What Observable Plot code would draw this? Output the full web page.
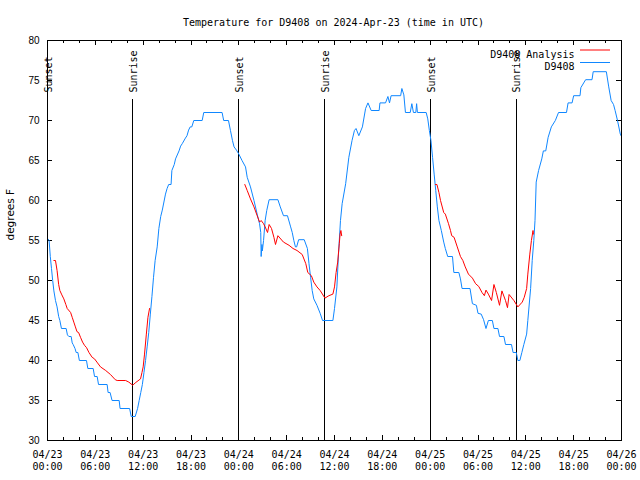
<!DOCTYPE html>
<html>
<head>
<meta charset="utf-8">
<script src="https://cdn.jsdelivr.net/npm/d3@7"></script>
<script src="https://cdn.jsdelivr.net/npm/@observablehq/plot@0.6"></script>
<style>
  html, body { margin: 0; padding: 0; background: white; }
  svg { display: block; }
</style>
</head>
<body>
<div id="chart"></div>
<script>
// ---------------- DATA ----------------
const titleText = "Temperature for D9408 on 2024-Apr-23 (time in UTC)";
const yLabel = "degrees F";
const seriesNames = ["D9408 Analysis", "D9408"];
const seriesColors = ["#ff0000", "#0f87ff"];
const startUTC = "2024-04-23T00:00:00Z";

// Observed station temperature: [hours since start, degrees F]
const observed = [
  [0.05,55.2],[0.2,55],[0.35,53],[0.5,51.5],[0.65,50],[0.8,48.7],[1.0,47.5],[1.2,46.7],[1.4,45.5],[1.55,45],
  [1.75,44],[2.34,44],[2.5,43.2],[2.68,43],[2.97,43],[3.1,42.2],[3.22,42],[3.45,41.5],[3.6,41],[3.81,41],
  [4.0,40],[4.89,40],[5.06,39],[5.73,39],[5.9,38],[6.23,38],[6.4,37],[7.48,37],[7.6,36],[7.85,36],
  [8.1,35],[8.99,35],[9.1,34],[10.3,34],[10.5,33],[11.0,33],[11.3,34],[11.5,35],[11.7,36],[11.9,37],
  [12.1,38.5],[12.3,40],[12.5,41.7],[12.7,43.5],[12.9,45.8],[13.1,48],[13.3,50.4],[13.5,52.5],[13.76,54.2],[13.97,56.5],
  [14.2,58],[14.4,58.8],[14.8,60.8],[15.0,61.5],[15.2,62],[15.5,62],[15.6,63.75],[15.9,64.5],[16.06,65.2],[16.5,66.2],
  [16.7,66.8],[16.9,67.1],[17.3,67.8],[17.5,68.1],[17.7,68.8],[17.9,69.2],[18.1,69.2],[18.35,70],[19.4,70],[19.6,71],
  [21.9,71],[22.1,70],[22.7,70],[22.95,68.75],[23.2,67.5],[23.4,66.7],[23.7,66.3],[24.0,65.8],[24.4,65],[24.84,64.2],
  [25.05,62.9],[25.46,61.7],[25.9,60],[26.3,58.3],[26.6,57.1],[26.75,56],[26.8,53],[26.9,54.5],[26.95,53.7],[27.1,55],
  [27.3,57.5],[27.5,58.75],[27.8,60.1],[28.9,60.1],[29.2,59.2],[29.6,58.1],[30.1,58.1],[30.5,56.7],[30.7,56],[30.9,55],
  [31.1,54.2],[31.25,54.2],[31.5,55.1],[32.2,55.1],[32.6,54],[32.8,52.1],[33.0,50.4],[33.2,48.75],[33.4,47.7],[33.8,46.9],
  [34.2,45.9],[34.5,45],[35.8,45],[36.0,46.5],[36.3,49.2],[36.5,53.3],[36.75,57.5],[36.96,59.6],[37.4,62.1],[37.8,65.4],
  [38.2,67.5],[38.5,68.75],[38.7,69],[39.05,68.1],[39.5,69.2],[39.9,71.5],[40.2,72.2],[40.6,71.25],[41.6,71.25],[41.7,72.2],
  [42.4,72.2],[42.7,73],[42.9,72.2],[43.1,73.1],[44.3,73.1],[44.45,74],[44.7,73.2],[44.9,71],[45.5,71],[45.7,72.1],
  [45.9,71],[46.2,71],[46.3,72.1],[46.4,71],[47.5,71],[47.7,70.2],[47.9,68.75],[48.1,67.5],[48.3,65.4],[48.5,63.3],
  [48.7,61.25],[48.9,59.2],[49.1,57.5],[49.4,56.25],[49.7,54.8],[49.9,54],[50.2,53],[50.8,53],[50.97,51],[51.6,51],
  [51.8,50.2],[52.0,49],[53.0,49],[53.3,47.1],[53.8,46.9],[54.0,45.9],[54.4,45.8],[54.7,45.1],[55.0,44],[55.3,45],
  [55.8,45],[56.0,44],[56.5,44],[56.7,43],[57.25,43],[57.45,42],[58.2,42],[58.4,41],[58.8,41],[59.0,40],
  [59.25,40],[59.5,41],[59.75,42],[60.1,43.3],[60.25,45],[60.6,49],[60.8,52.5],[61.0,55],[61.15,57.5],[61.3,62.3],
  [61.6,63.75],[62.0,65.2],[62.2,66.2],[62.5,66.2],[62.8,67.9],[63.2,69.2],[63.7,70],[64.1,71],[65.1,71],[65.3,72.2],
  [65.8,72.2],[66.0,73.1],[66.8,73.1],[66.9,74.1],[67.5,75.1],[68.3,75.1],[68.45,76.1],[70.1,76.1],[70.4,74.2],[70.7,72.5],
  [71.0,72],[71.2,71.25],[71.5,70],[71.85,68.3],[72,68]
];

// Analysis temperature (null = gap): [hours since start, degrees F]
const analysis = [
  [0.8,52.5],[1.0,52.5],[1.2,51.25],[1.4,49.5],[1.55,48.75],[1.8,48.2],[2.05,47.7],[2.3,47],[2.47,46.5],[2.9,46],
  [3.1,45.4],[3.3,44.8],[3.5,44.2],[3.7,43.6],[3.9,43.5],[4.14,42.9],[4.4,42.3],[4.64,41.9],[4.9,41.6],[5.2,41],
  [5.6,40.4],[5.9,40.2],[6.2,39.8],[6.65,39.2],[7.3,38.75],[7.9,38.25],[8.5,37.6],[8.74,37.5],[9.8,37.5],[10.2,37.3],
  [10.7,36.9],[11.0,37.2],[11.67,37.7],[11.85,38.5],[12.0,39.2],[12.17,40.8],[12.4,43.3],[12.6,45.4],[12.8,46.5],
  [18,null],
  [24.75,62],[25.05,61.25],[25.46,60.2],[25.9,59.2],[26.3,58.1],[26.6,57.3],[26.8,57.5],[27.1,57.1],[27.3,56.7],[27.6,56.0],
  [27.8,57],[28.1,56.5],[28.4,55.4],[28.6,54.5],[28.9,55.6],[29.6,54.8],[30.3,54.4],[30.8,54],[31.3,53.75],[31.95,53.25],
  [32.4,52.1],[32.65,51],[33.1,50.6],[33.4,49.8],[33.8,49.2],[34.2,48.75],[34.8,47.8],[35.3,48.1],[35.8,48.3],[36.0,49.2],
  [36.2,51],[36.4,52.3],[36.6,54.6],[36.7,55.8],[36.8,56.25],[36.9,55.6],
  [42,null],
  [48.67,62],[48.85,62],[49.1,61],[49.3,60],[49.7,58.5],[49.9,58.3],[50.3,57.1],[50.55,56.25],[50.7,55.6],[51.0,55.4],
  [51.4,54.2],[51.8,53],[52.1,52.5],[52.4,51.7],[52.8,50.8],[53.3,50.3],[53.7,49.6],[54.1,49.25],[54.5,48.5],[54.8,48.1],
  [55.0,48.8],[55.3,48.3],[55.7,47.5],[56.0,49.5],[56.3,48.5],[56.7,46.9],[57.0,48.7],[57.45,47.5],[57.7,46.6],[57.9,48.25],
  [58.5,47.5],[59.0,46.7],[59.55,47.3],[59.8,47.9],[60.1,49],[60.25,50.8],[60.5,53.3],[60.7,55],[60.9,56.25],[60.95,55.8]
];

// Sun events: hours since start
const sunEventLabels = ["Sunset", "Sunrise", "Sunset", "Sunrise", "Sunset", "Sunrise"];
const sunEventHours = [0.05, 10.7, 24.0, 34.8, 48.05, 58.8];

// Tick values
const yTicks = [30, 35, 40, 45, 50, 55, 60, 65, 70, 75, 80];
const majorTickHours = [0, 6, 12, 18, 24, 30, 36, 42, 48, 54, 60, 66, 72];
const minorTickHours = [2, 4, 8, 10, 14, 16, 20, 22, 26, 28, 32, 34, 38, 40, 44, 46, 50, 52, 56, 58, 62, 64, 68, 70];

// ---------------- BUILD ----------------
const t0 = new Date(startUTC).getTime();
const toDate = h => new Date(t0 + h * 3600e3);
const obsData = observed.map(([h, v]) => ({t: toDate(h), v}));
const anaData = analysis.map(([h, v]) => ({t: toDate(h), v}));
const sunData = sunEventHours.map((h, i) => ({t: toDate(h), label: sunEventLabels[i]}));
const majorTicks = majorTickHours.map(toDate);
const minorTicks = minorTickHours.map(toDate);
const fmtDay = d3.utcFormat("%m/%d"), fmtTime = d3.utcFormat("%H:%M");

const W = 640, H = 480, ML = 47, MR = 19, MT = 40, MB = 40;
const FW = W - ML - MR, FH = H - MT - MB;
const mono = "'DejaVu Sans Mono', monospace";
const sans = "'Liberation Sans', Arial, sans-serif";
const MAJ = 5, MIN = 3;

const chart = Plot.plot({
  width: W, height: H,
  marginLeft: ML, marginRight: MR, marginTop: MT, marginBottom: MB,
  style: {background: "white", fontFamily: mono, fontSize: "10px", color: "black"},
  x: {type: "utc", domain: [toDate(0), toDate(72)]},
  y: {domain: [30, 80]},
  marks: [
    // inward ticks (bottom/top)
    Plot.ruleX(majorTicks, {insetTop: FH - MAJ, stroke: "black", shapeRendering: "crispEdges"}),
    Plot.ruleX(majorTicks, {insetBottom: FH - MAJ, stroke: "black", shapeRendering: "crispEdges"}),
    Plot.ruleX(minorTicks, {insetTop: FH - MIN, stroke: "black", shapeRendering: "crispEdges"}),
    Plot.ruleX(minorTicks, {insetBottom: FH - MIN, stroke: "black", shapeRendering: "crispEdges"}),
    // inward ticks (left/right)
    Plot.ruleY(yTicks, {insetRight: FW - MAJ, stroke: "black", shapeRendering: "crispEdges"}),
    Plot.ruleY(yTicks, {insetLeft: FW - MAJ, stroke: "black", shapeRendering: "crispEdges"}),
    Plot.axisX({ticks: majorTicks, tickSize: 0, tickPadding: 9, label: null,
      tickFormat: d => fmtDay(d) + "\n" + fmtTime(d), fontFamily: mono, fontSize: 10, lineHeight: 1.2}),
    Plot.axisY({ticks: yTicks, tickSize: 0, tickPadding: 8, label: null, fontFamily: sans, fontSize: 10}),
    // sun event lines and labels
    Plot.ruleX(sunData, {x: "t", y1: 30, y2: 72.6, stroke: "black", shapeRendering: "crispEdges"}),
    Plot.text(sunData, {x: "t", y: 73.5, text: "label", rotate: -90, textAnchor: "start", dx: 1,
      fontFamily: mono, fontSize: 10}),
    // series
    Plot.line(obsData, {x: "t", y: "v", stroke: seriesColors[1], strokeWidth: 1}),
    Plot.line(anaData, {x: "t", y: "v", stroke: seriesColors[0], strokeWidth: 1}),
    Plot.frame({stroke: "black", shapeRendering: "crispEdges"}),
    // title
    Plot.text([titleText], {frameAnchor: "top", dy: -22, dx: -1, fontFamily: mono, fontSize: 10}),
    // y label
    Plot.text([yLabel], {frameAnchor: "left", dx: -37, rotate: -90, fontFamily: "'DejaVu Sans', sans-serif", fontSize: 10.5}),
    // legend text
    Plot.text([seriesNames[0]], {frameAnchor: "top-right", dx: -47, dy: 10, textAnchor: "end", fontFamily: mono, fontSize: 10}),
    Plot.text([seriesNames[1]], {frameAnchor: "top-right", dx: -47, dy: 22.5, textAnchor: "end", fontFamily: mono, fontSize: 10})
  ]
});

// legend swatches
const svg = d3.select(chart);
[[10, seriesColors[0]], [22.5, seriesColors[1]]].forEach(([dy, c]) => {
  svg.append("line")
    .attr("x1", W - MR - 41).attr("x2", W - MR - 11)
    .attr("y1", MT + dy).attr("y2", MT + dy)
    .attr("stroke", c).attr("stroke-width", 1);
});

document.getElementById("chart").appendChild(chart);
</script>
</body>
</html>
